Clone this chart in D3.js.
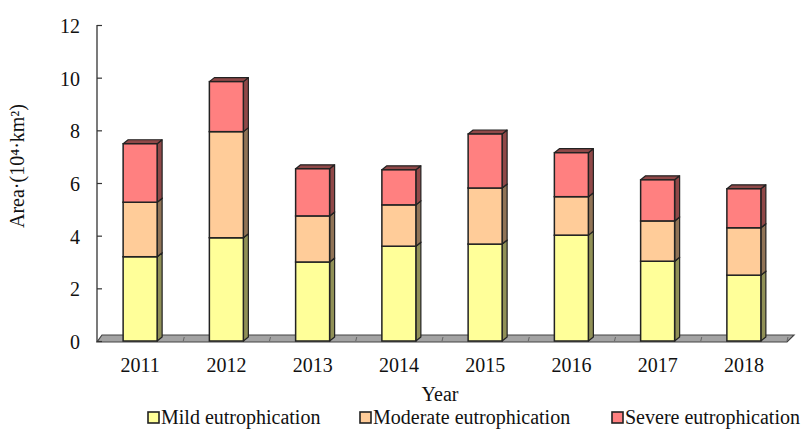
<!DOCTYPE html>
<html>
<head>
<meta charset="utf-8">
<script src="https://cdn.jsdelivr.net/npm/d3@7"></script>
<style>
  body { margin: 0; background: #fff; }
  svg text { font-family: "Liberation Serif", "Times New Roman", serif; fill: #111; }
</style>
</head>
<body>
<div id="chart"></div>
<script>
// values (10^4 km^2)
const years = ["2011", "2012", "2013", "2014", "2015", "2016", "2017", "2018"];
const mild = [3.2, 3.92, 3.0, 3.6, 3.68, 4.02, 3.03, 2.5];
const moderate = [2.07, 4.03, 1.75, 1.57, 2.13, 1.46, 1.53, 1.8];
const severe = [2.22, 1.9, 1.79, 1.33, 2.05, 1.67, 1.56, 1.48];
const yTicks = [0, 2, 4, 6, 8, 10, 12];
const seriesNames = ["Mild eutrophication", "Moderate eutrophication", "Severe eutrophication"];
const seriesColors = ["#ffff99", "#ffcc99", "#ff8080"];

const W = 806, H = 430;
const plotLeft = 97, plotRight = 787, plotTop = 25, plotBottom = 341;
const dx = 5, dy = 4;   // depth of the 3D bars
const serif = "'Liberation Serif', 'Times New Roman', serif";

const svg = d3.select("#chart").append("svg")
    .attr("width", W)
    .attr("height", H)
    .attr("font-family", serif);

const x = d3.scaleBand()
    .domain(years)
    .range([plotLeft, plotRight])
    .paddingInner(0)
    .paddingOuter(0);

const y = d3.scaleLinear()
    .domain([0, 12])
    .range([plotBottom, plotTop]);

const barW = 34;

// floor
const floorFront = plotBottom + 1, floorBack = plotBottom - 6, floorDx = 7;
svg.append("path")
    .attr("d", `M${plotLeft},${floorFront}L${plotRight},${floorFront}L${plotRight + floorDx},${floorBack}L${plotLeft + floorDx - 2},${floorBack}Z`)
    .attr("fill", "#a3a3a3")
    .attr("stroke", "#444")
    .attr("stroke-width", 1.2);

// small dividers on the floor
svg.selectAll(".divider")
    .data(years.slice(1).concat(["end"]))
    .enter().append("line")
    .attr("class", "divider")
    .attr("x1", (d, i) => plotLeft + x.bandwidth() * (i + 1))
    .attr("x2", (d, i) => plotLeft + x.bandwidth() * (i + 1) + 1)
    .attr("y1", floorFront - 1)
    .attr("y2", floorBack + 2)
    .attr("stroke", "#666")
    .attr("stroke-width", 1);

// y axis
const yAxis = svg.append("g")
    .attr("transform", `translate(${plotLeft},0)`)
    .call(d3.axisRight(y).tickValues(yTicks).tickSize(5).tickFormat(""));
yAxis.select(".domain").attr("stroke", "#333").attr("stroke-width", 1.3)
    .attr("d", `M0,${plotTop}V${floorFront}`);
yAxis.selectAll(".tick line").attr("stroke", "#333").attr("stroke-width", 1.2);

svg.selectAll(".ylab")
    .data(yTicks)
    .enter().append("text")
    .attr("class", "ylab")
    .attr("x", 80)
    .attr("y", d => y(d) + 1)
    .attr("dy", "0.35em")
    .attr("text-anchor", "end")
    .style("font-family", serif)
    .style("font-size", "20px")
    .text(d => d);

svg.append("text")
    .attr("transform", "translate(24,166) rotate(-90)")
    .attr("text-anchor", "middle")
    .style("font-family", serif)
    .style("font-size", "20px")
    .text("Area·(10⁴·km²)");

// stacked 3D bars
const stacks = years.map((yr, i) => {
    const vals = [mild[i], moderate[i], severe[i]];
    let base = 0;
    return vals.map((v, k) => {
        const seg = {year: yr, k: k, y0: base, y1: base + v};
        base += v;
        return seg;
    });
});
const segs = stacks.flat().sort((a, b) => a.k - b.k);

const barG = svg.append("g");
segs.forEach(s => {
    const x0 = x(s.year) + (x.bandwidth() - barW) / 2;
    const x1 = x0 + barW;
    const yt = y(s.y1), yb = y(s.y0);
    const c = seriesColors[s.k];
    const dark = d3.color(c).darker(1.6).formatHex();
    const g = barG.append("g");
    // side
    g.append("path")
        .attr("d", `M${x1},${yb}L${x1 + dx},${yb - dy}L${x1 + dx},${yt - dy}L${x1},${yt}Z`)
        .attr("fill", dark)
        .attr("stroke", "#222")
        .attr("stroke-width", 1.2)
        .attr("stroke-linejoin", "round");
    // top
    g.append("path")
        .attr("d", `M${x0},${yt}L${x0 + dx},${yt - dy}L${x1 + dx},${yt - dy}L${x1},${yt}Z`)
        .attr("fill", dark)
        .attr("stroke", "#222")
        .attr("stroke-width", 1.2)
        .attr("stroke-linejoin", "round");
    // front
    g.append("rect")
        .attr("x", x0)
        .attr("y", yt)
        .attr("width", barW)
        .attr("height", yb - yt)
        .attr("fill", c)
        .attr("stroke", "#222")
        .attr("stroke-width", 1.5);
});

// x labels
svg.selectAll(".xlab")
    .data(years)
    .enter().append("text")
    .attr("class", "xlab")
    .attr("x", d => x(d) + x.bandwidth() / 2)
    .attr("y", 372)
    .attr("text-anchor", "middle")
    .style("font-family", serif)
    .style("font-size", "20px")
    .text(d => d);

svg.append("text")
    .attr("x", 440)
    .attr("y", 401)
    .attr("text-anchor", "middle")
    .style("font-family", serif)
    .style("font-size", "20px")
    .text("Year");

// legend
const legendX = [148, 360, 612];
const legend = svg.selectAll(".leg")
    .data(seriesNames)
    .enter().append("g")
    .attr("class", "leg")
    .attr("transform", (d, i) => `translate(${legendX[i]},412)`);
legend.append("rect")
    .attr("width", 11)
    .attr("height", 11)
    .attr("fill", (d, i) => seriesColors[i])
    .attr("stroke", "#222")
    .attr("stroke-width", 1.6);
legend.append("text")
    .attr("x", 13)
    .attr("y", 12)
    .style("font-family", serif)
    .style("font-size", "20px")
    .text(d => d);
</script>
</body>
</html>
